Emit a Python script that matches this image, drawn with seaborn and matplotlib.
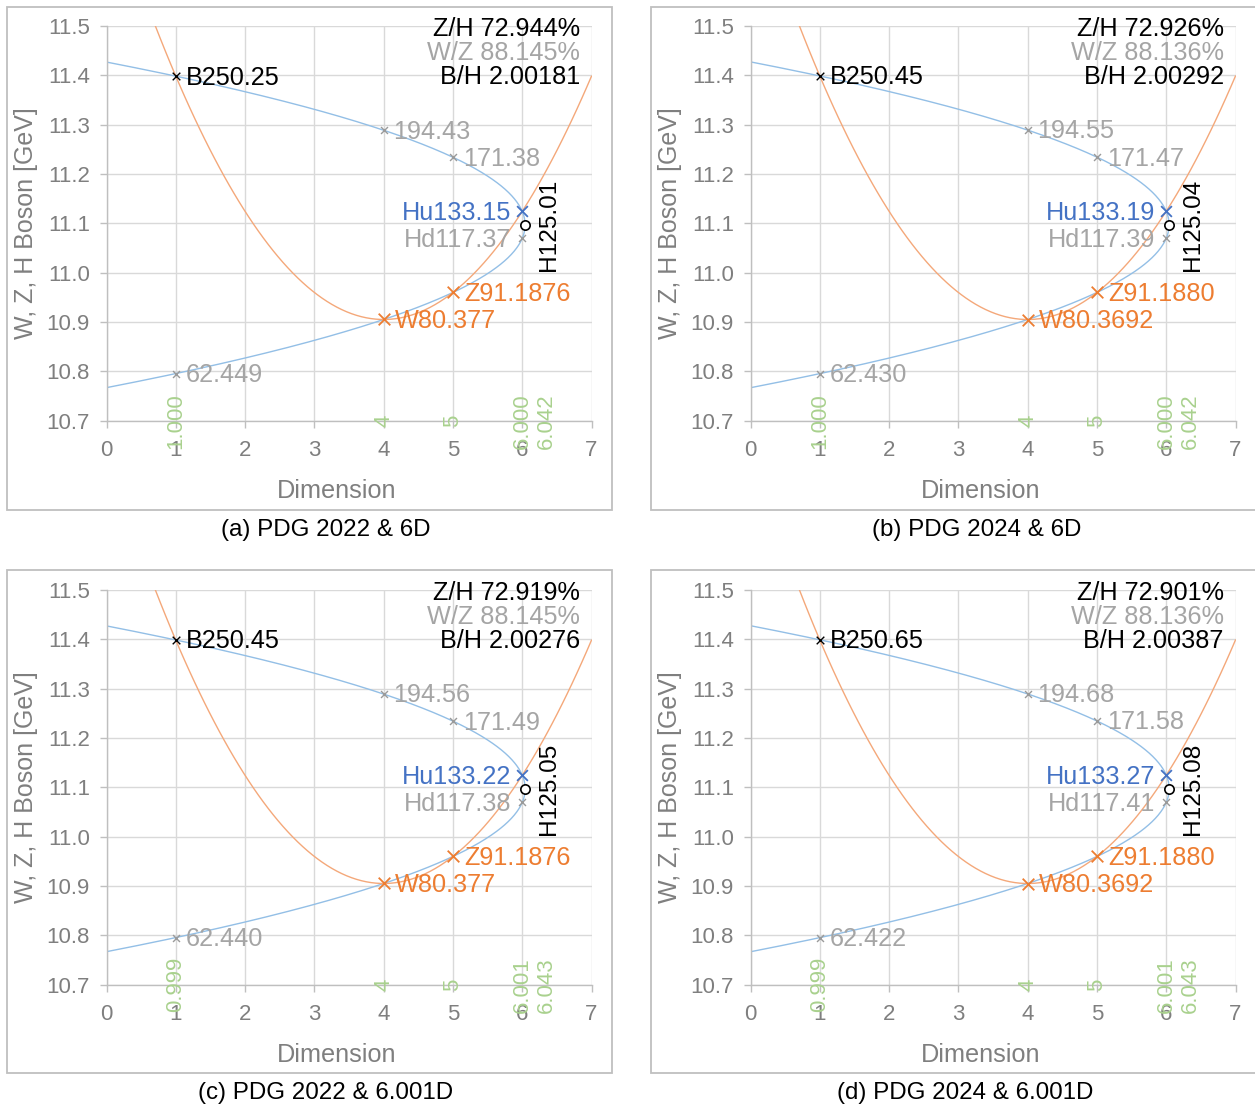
import numpy as np
import pandas as pd
import matplotlib
matplotlib.use("Agg")
import matplotlib.pyplot as plt
from matplotlib.patches import Rectangle
import seaborn as sns

# ---------------------------------------------------------------- data
CAPTIONS = ["(a) PDG 2022 & 6D", "(b) PDG 2024 & 6D",
            "(c) PDG 2022 & 6.001D", "(d) PDG 2024 & 6.001D"]

# boson masses in GeV
B_MASS = [250.25, 250.45, 250.45, 250.65]
UPPER_4D = [194.43, 194.55, 194.56, 194.68]
UPPER_5D = [171.38, 171.47, 171.49, 171.58]
HU_MASS = [133.15, 133.19, 133.22, 133.27]
HD_MASS = [117.37, 117.39, 117.38, 117.41]
H_MASS = [125.01, 125.04, 125.05, 125.08]
Z_MASS = [91.1876, 91.1880, 91.1876, 91.1880]
Z_TEXT = ["91.1876", "91.1880", "91.1876", "91.1880"]
W_MASS = [80.377, 80.3692, 80.377, 80.3692]
W_TEXT = ["80.377", "80.3692", "80.377", "80.3692"]
LOWER_1D = [62.449, 62.430, 62.440, 62.422]

# ratios printed in the corner
ZH_TEXT = ["72.944%", "72.926%", "72.919%", "72.901%"]
WZ_TEXT = ["88.145%", "88.136%", "88.145%", "88.136%"]
BH_TEXT = ["2.00181", "2.00292", "2.00276", "2.00387"]

# dimensions of the points
DIM_LOW = [1.000, 1.000, 0.999, 0.999]
DIM_W = [4, 4, 4, 4]
DIM_Z = [5, 5, 5, 5]
DIM_HIGH = [6.000, 6.000, 6.001, 6.001]
DIM_H = [6.042, 6.042, 6.043, 6.043]

X_TICKS = [0, 1, 2, 3, 4, 5, 6, 7]
Y_TICKS = [10.7, 10.8, 10.9, 11.0, 11.1, 11.2, 11.3, 11.4, 11.5]

# ---------------------------------------------------------------- style
sns.set_theme(style="whitegrid")
plt.rcParams["font.family"] = ["Liberation Sans", "DejaVu Sans"]

ORANGE_LINE = "#F4A87A"
BLUE_LINE = "#93BFE6"
ORANGE = "#ED7D31"
BLUE = "#4472C4"
GRAY = "#A5A5A5"
MARK_GRAY = "#9A9A9A"
GREEN = "#A9D18E"
TICK_GRAY = "#7F7F7F"
GRID = "#D9D9D9"
FRAME = "#BFBFBF"

W_PX, H_PX = 1255, 1111
fig = plt.figure(figsize=(W_PX / 100, H_PX / 100), dpi=100)

# pixel geometry of each panel: axes left, axes top, frame box, caption centre
AX_LEFT = [106.5, 750.5, 106.5, 750.5]
AX_TOP = [26.0, 26.0, 590.0, 590.0]
AX_WIDTH, AX_HEIGHT = 485.0, 394.7
BOX_X = [7, 651, 7, 651]
BOX_Y = [7, 7, 570, 570]
BOX_W, BOX_H = 605, 503
CAP_X = [326, 977, 326, 965]
CAP_Y = [530, 530, 1093, 1093]


def log_ev(m_gev):
    return np.log10(np.asarray(m_gev, dtype=float) * 1e9)


LBL = 18.2
for i in range(4):
    # frame around the panel
    fig.add_artist(Rectangle((BOX_X[i] / W_PX, 1 - (BOX_Y[i] + BOX_H) / H_PX),
                             BOX_W / W_PX, BOX_H / H_PX, transform=fig.transFigure,
                             fill=False, edgecolor=FRAME, linewidth=1.3))
    fig.text(CAP_X[i] / W_PX, 1 - CAP_Y[i] / H_PX, CAPTIONS[i],
             ha="center", va="center", fontsize=17.4, color="black")

    ax = fig.add_axes([AX_LEFT[i] / W_PX, 1 - (AX_TOP[i] + AX_HEIGHT) / H_PX,
                       AX_WIDTH / W_PX, AX_HEIGHT / H_PX])
    ax.set_xlim(0, 7)
    ax.set_ylim(10.7, 11.5)

    yB, y4u, y5u = log_ev(B_MASS[i]), log_ev(UPPER_4D[i]), log_ev(UPPER_5D[i])
    yHu, yHd, yH = log_ev(HU_MASS[i]), log_ev(HD_MASS[i]), log_ev(H_MASS[i])
    yZ, yW, yL = log_ev(Z_MASS[i]), log_ev(W_MASS[i]), log_ev(LOWER_1D[i])
    d1, d4, d5, d6, dH = DIM_LOW[i], DIM_W[i], DIM_Z[i], DIM_HIGH[i], DIM_H[i]

    # orange parabola: quadratic trend through B, W, Z, Hu
    trend = pd.DataFrame({"dim": [d1, d4, d5, d6], "logm": [yB, yW, yZ, yHu]})
    sns.regplot(data=trend, x="dim", y="logm", order=2, ci=None, scatter=False,
                truncate=False, ax=ax,
                line_kws=dict(color=ORANGE_LINE, linewidth=1.0, zorder=3))

    # blue sideways parabola: dimension as a quadratic in log mass
    side = pd.DataFrame({
        "dim": [d1, d4, d5, d6, dH, d6, d5, d4, d1],
        "logm": [yB, y4u, y5u, yHu, yH, yHd, yZ, yW, yL],
    })
    coef = np.polyfit(side["logm"], side["dim"], 2)
    r_lo, r_hi = np.sort(np.real(np.roots(coef)))
    ys = np.linspace(r_lo, r_hi, 600)
    sns.lineplot(x=np.polyval(coef, ys), y=ys, sort=False, estimator=None,
                 color=BLUE_LINE, linewidth=1.0, ax=ax, zorder=2)

    ax.set_xlim(0, 7)
    ax.set_ylim(10.7, 11.5)

    # point markers
    def mark(xs, ys_, color, s, lw=1.0):
        sns.scatterplot(x=xs, y=ys_, marker="x", s=s, color=color,
                        linewidth=lw, ax=ax, zorder=5, legend=False)

    mark([d1], [yB], "black", 30)
    mark([d4, d5, d6, d1], [y4u, y5u, yHd, yL], MARK_GRAY, 25)
    mark([d6], [yHu], BLUE, 60, 1.3)
    mark([d4, d5], [yW, yZ], ORANGE, 70, 1.3)
    sns.scatterplot(x=[dH], y=[yH], marker="o", s=45, facecolor="white",
                    edgecolor="black", linewidth=1.2, ax=ax, zorder=6, legend=False)

    def label(x, y, txt, color, dx, ha):
        ax.annotate(txt, (x, y), xytext=(dx, -1), textcoords="offset points",
                    ha=ha, va="center", fontsize=LBL, color=color, zorder=7)

    label(d1, yB, f"B{B_MASS[i]:.2f}", "black", 7, "left")
    label(d4, y4u, f"{UPPER_4D[i]:.2f}", GRAY, 7, "left")
    label(d5, y5u, f"{UPPER_5D[i]:.2f}", GRAY, 7, "left")
    label(d6, yHu, f"Hu{HU_MASS[i]:.2f}", BLUE, -8, "right")
    label(d6, yHd, f"Hd{HD_MASS[i]:.2f}", GRAY, -8, "right")
    label(d5, yZ, f"Z{Z_TEXT[i]}", ORANGE, 8, "left")
    label(d4, yW, f"W{W_TEXT[i]}", ORANGE, 8, "left")
    label(d1, yL, f"{LOWER_1D[i]:.3f}", GRAY, 7, "left")
    ax.annotate(f"H{H_MASS[i]:.2f}", (dH, yH), xytext=(17, 0),
                textcoords="offset points", rotation=90, ha="center",
                va="center", fontsize=17.6, color="black", zorder=7)

    # dimension values along the bottom edge
    bottom = Y_TICKS[0]
    dims = [(d1, f"{d1:.3f}", 0), (d4, "4", 0), (d5, "5", 0),
            (d6, f"{d6:.3f}", 0), (dH, f"{dH:.3f}", 15)]
    for xv, txt, off in dims:
        ax.annotate(txt, (xv, bottom), xytext=(off, 0), textcoords="offset points",
                    rotation=90, ha="center", va="center", fontsize=16,
                    color=GREEN, zorder=7, annotation_clip=False)

    # ratios in the top-right corner
    ax.text(0.976, 0.993, f"Z/H {ZH_TEXT[i]}", transform=ax.transAxes,
            ha="right", va="center", fontsize=LBL, color="black", zorder=7)
    ax.text(0.976, 0.932, f"W/Z {WZ_TEXT[i]}", transform=ax.transAxes,
            ha="right", va="center", fontsize=LBL, color=GRAY, zorder=7)
    ax.text(0.976, 0.870, f"B/H {BH_TEXT[i]}", transform=ax.transAxes,
            ha="right", va="center", fontsize=LBL, color="black", zorder=7)

    # axes styling
    ax.set_xticks(X_TICKS)
    ax.set_yticks(Y_TICKS)
    ax.set_xticklabels([str(t) for t in X_TICKS])
    ax.set_yticklabels([f"{t:.1f}" for t in Y_TICKS])
    ax.grid(True, color=GRID, linewidth=1.0)
    ax.set_axisbelow(True)
    for side_name in ["top", "right"]:
        ax.spines[side_name].set_visible(False)
    for side_name in ["left", "bottom"]:
        ax.spines[side_name].set_visible(True)
        ax.spines[side_name].set_color(FRAME)
        ax.spines[side_name].set_linewidth(1.0)
    ax.tick_params(axis="both", which="major", direction="out", length=5,
                   width=1.0, color=FRAME, labelcolor=TICK_GRAY, labelsize=16,
                   bottom=True, left=True)
    ax.tick_params(axis="x", pad=9)
    ax.tick_params(axis="y", pad=7)
    ax.set_xlabel("Dimension", fontsize=18.2, color=TICK_GRAY)
    ax.set_ylabel("W, Z, H Boson [GeV]", fontsize=18, color=TICK_GRAY)
    ax.xaxis.set_label_coords(0.475, -0.148)
    ax.yaxis.set_label_coords(-0.141, 0.5)

fig.savefig("out.png", dpi=100, facecolor="white")
